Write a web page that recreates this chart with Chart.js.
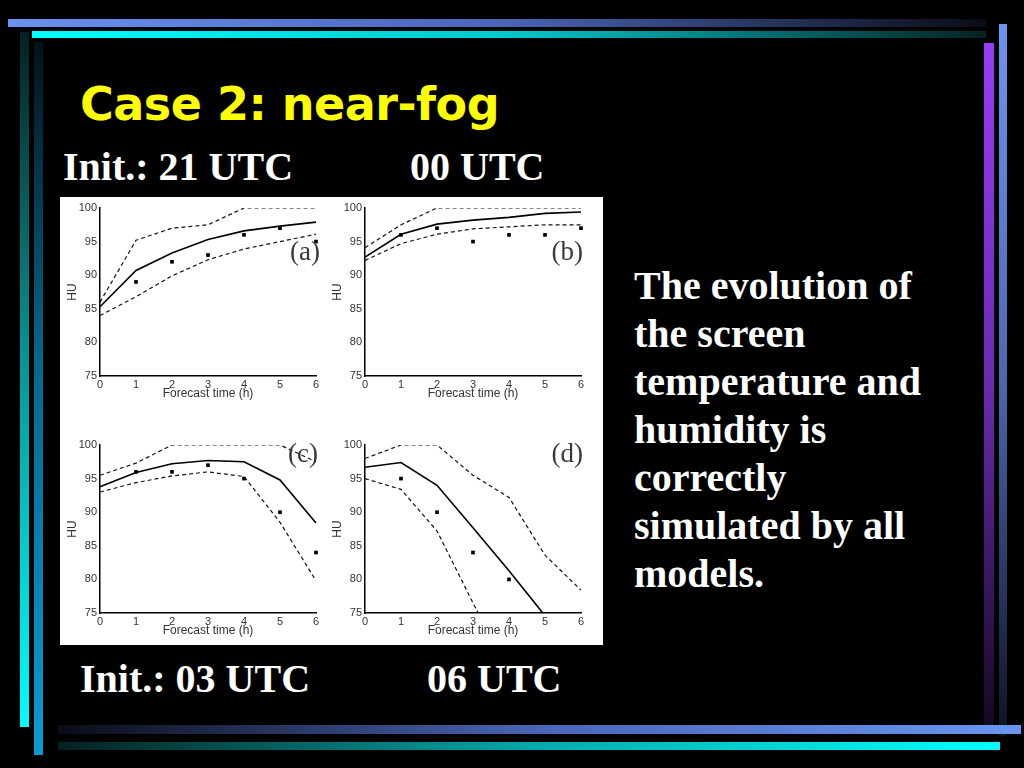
<!DOCTYPE html>
<html lang="en">
<head>
  <meta charset="UTF-8">
  <title>Case 2: near-fog</title>
  <script src="https://cdn.jsdelivr.net/npm/chart.js"></script>
  <style>
    html, body { margin: 0; padding: 0; background: #000; }
    .slide { position: relative; width: 1024px; height: 768px; overflow: hidden; background: #000; }
    .bar { position: absolute; }
    .title { position: absolute; left: 80px; top: 76px; font: bold 46px "DejaVu Sans", sans-serif; line-height: 56px; color: #ffff00; white-space: nowrap; letter-spacing: -0.5px; }
    .lbl { position: absolute; font: bold 40px "Liberation Serif", "Times New Roman", serif; line-height: 48px; color: #fff; white-space: nowrap; }
    .figure { position: absolute; left: 60px; top: 197px; width: 543px; height: 448px; background: #fff; }
    .panel { position: absolute; width: 265px; height: 210px; }
  </style>
</head>
<body>
<div class="slide">
  <div class="bar" style="left:8px;top:19px;width:978px;height:8px;background:linear-gradient(to right,#6a92f2,#4a66b8 50%,#0a0c16);"></div>
  <div class="bar" style="left:32px;top:31px;width:954px;height:7px;background:linear-gradient(to right,#00ffff,#00c8cc 50%,#062222);"></div>
  <div class="bar" style="left:20px;top:32px;width:9px;height:695px;background:linear-gradient(to bottom,#062020,#089090 45%,#00ffff);"></div>
  <div class="bar" style="left:34px;top:42px;width:9px;height:713px;background:linear-gradient(to bottom,#04121a,#06688e 45%,#0c9ad0);"></div>
  <div class="bar" style="left:984px;top:43px;width:10px;height:690px;background:linear-gradient(to bottom,#9a3cf5,#6a2ab0 50%,#12081e);"></div>
  <div class="bar" style="left:999px;top:24px;width:8px;height:712px;background:linear-gradient(to bottom,#6a96f0,#4a68b0 50%,#0c1222);"></div>
  <div class="bar" style="left:58px;top:725px;width:963px;height:9px;background:linear-gradient(to right,#0a0c16,#4a66b8 50%,#6a96f2);"></div>
  <div class="bar" style="left:58px;top:742px;width:942px;height:8px;background:linear-gradient(to right,#062020,#00a8aa 50%,#00ffff);"></div>

  <div class="title">Case 2: near-fog</div>
  <div class="lbl" style="left:63px;top:143px;">Init.: 21 UTC</div>
  <div class="lbl" style="left:410px;top:143px;">00 UTC</div>
  <div class="lbl" style="left:80px;top:655px;">Init.: 03 UTC</div>
  <div class="lbl" style="left:427px;top:655px;">06 UTC</div>
  <div class="lbl" style="left:634px;top:262px;">The evolution of<br>the screen<br>temperature and<br>humidity is<br>correctly<br>simulated by all<br>models.</div>

  <div class="figure"></div>
  <div class="panel" style="left:62px;top:198px;"><canvas id="chartA"></canvas></div>
  <div class="panel" style="left:327px;top:198px;"><canvas id="chartB"></canvas></div>
  <div class="panel" style="left:62px;top:435px;"><canvas id="chartC"></canvas></div>
  <div class="panel" style="left:327px;top:435px;"><canvas id="chartD"></canvas></div>
</div>

<script>
  // forecast hours and HU axis ticks
  const hours = [0, 1, 2, 3, 4, 5, 6];
  const huTicks = [75, 80, 85, 90, 95, 100];

  // (a) init 21 UTC
  const aUpper = [86, 95.2, 97, 97.5, 100, 100, 100];
  const aModel = [85.3, 90.7, 93.3, 95.3, 96.6, 97.3, 97.9];
  const aLower = [84, 86.8, 89.9, 92.3, 93.9, 95, 96.1];
  const aObs = [null, 89, 92, 93, 96, 97, 95];

  // (b) init 00 UTC
  const bUpper = [94.1, 97.5, 100, 100, 100, 100, 100];
  const bModel = [92.7, 96.1, 97.6, 98.2, 98.6, 99.2, 99.4];
  const bLower = [92.2, 94.7, 96.1, 96.9, 97.2, 97.5, 97.5];
  const bObs = [null, 96, 97, 95, 96, 96, 97];

  // (c) init 03 UTC
  const cUpper = [95.5, 97.3, 100, 100, 100, 100, 97.5];
  const cModel = [93.8, 95.9, 97.2, 97.7, 97.5, 94.8, 88.4];
  const cLower = [93, 94.4, 95.4, 96, 95.3, 88.5, 79.8];
  const cObs = [null, 96, 96, 97, 95, 90, 84];

  // (d) init 06 UTC
  const dUpper = [98, 100, 100, 95.5, 92.2, 83.6, 78.4];
  const dModel = [96.7, 97.4, 94, 87.7, 81.3, 74.6, null];
  const dLower = [95, 93.4, 87.2, 76.5, 66, null, null];
  const dObs = [null, 95, 90, 84, 80, null, null];

  const tickFont = { family: '"Liberation Sans", Arial, sans-serif', size: 11 };
  const titleFont = { family: '"Liberation Sans", Arial, sans-serif', size: 12 };

  const panelLabel = {
    id: 'panelLabel',
    afterDraw(chart, args, opts) {
      const { ctx, chartArea } = chart;
      ctx.save();
      ctx.font = '27px "Liberation Serif", serif';
      ctx.fillStyle = '#3a3a3a';
      ctx.textAlign = 'right';
      ctx.textBaseline = 'alphabetic';
      ctx.fillText(opts.text, chartArea.right + opts.dx, chartArea.top + opts.dy);
      ctx.restore();
    }
  };

  function makePanel(id, label, dx, dy, upper, model, lower, obs) {
    const dashed = { borderColor: '#111', borderWidth: 1.2, borderDash: [4, 3], pointRadius: 0, fill: false, tension: 0 };
    new Chart(document.getElementById(id), {
      type: 'line',
      data: {
        labels: hours,
        datasets: [
          Object.assign({ data: upper }, dashed),
          { data: model, borderColor: '#000', borderWidth: 1.6, pointRadius: 0, fill: false, tension: 0 },
          Object.assign({ data: lower }, dashed),
          { data: obs, showLine: false, pointStyle: 'rect', pointRadius: 2.6, pointBackgroundColor: '#000', pointBorderColor: '#000', pointBorderWidth: 0 }
        ]
      },
      options: {
        responsive: false,
        animation: false,
        events: [],
        layout: { padding: { top: 10, right: 11, left: 0, bottom: 0 } },
        plugins: {
          legend: { display: false },
          tooltip: { enabled: false },
          panelLabel: { text: label, dx: dx, dy: dy }
        },
        scales: {
          x: {
            offset: false,
            grid: { display: false, drawTicks: false },
            border: { display: true, color: '#000', width: 1.5, dash: [1.5, 1.5] },
            ticks: { color: '#333', font: tickFont, padding: 2, maxRotation: 0 },
            title: { display: true, text: 'Forecast time (h)', color: '#333', font: titleFont, padding: { top: 0, bottom: 7 } },
            afterFit: s => { s.height = 32; }
          },
          y: {
            min: huTicks[0],
            max: huTicks[huTicks.length - 1],
            afterBuildTicks: s => { s.ticks = huTicks.map(v => ({ value: v })); },
            grid: { display: false, drawTicks: false },
            border: { display: true, color: '#000', width: 1.5, dash: [1.5, 1.5] },
            ticks: { color: '#333', font: tickFont, padding: 3 },
            title: { display: true, text: 'HU', color: '#333', font: titleFont, padding: { top: 3, bottom: 0 } },
            afterFit: s => { s.width = 38; }
          }
        }
      },
      plugins: [panelLabel]
    });
  }

  function sizeCanvas(id) {
    const c = document.getElementById(id);
    c.width = 265; c.height = 210;
    c.style.width = '265px'; c.style.height = '210px';
  }
  ['chartA', 'chartB', 'chartC', 'chartD'].forEach(sizeCanvas);

  makePanel('chartA', '(a)', 4, 52, aUpper, aModel, aLower, aObs);
  makePanel('chartB', '(b)', 2, 52, bUpper, bModel, bLower, bObs);
  makePanel('chartC', '(c)', 2, 17, cUpper, cModel, cLower, cObs);
  makePanel('chartD', '(d)', 2, 17, dUpper, dModel, dLower, dObs);
</script>
</body>
</html>
